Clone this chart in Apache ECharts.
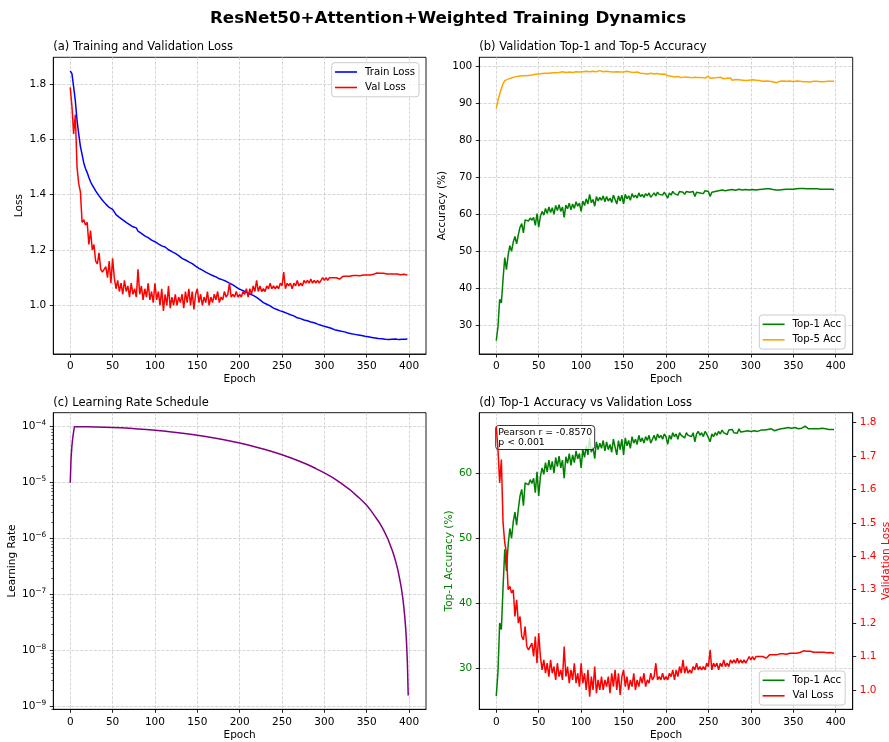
<!DOCTYPE html>
<html><head><meta charset="utf-8">
<script src="https://cdn.jsdelivr.net/npm/echarts@6/dist/echarts.min.js"></script>
<style>html,body{margin:0;padding:0;background:#fff}#c{width:889px;height:742px}</style>
</head><body><div id="c"></div>
<script>
// ---------------- data ----------------
const EPOCH_STEP = 2; // values sampled every 2 epochs: 0,2,...,398
const trainLoss = [
1.848,1.838,1.79,1.74,1.67,1.62,1.575,1.545,1.515,1.495,1.48,1.462,1.447,1.435,1.425,1.414,1.407,1.396,1.389,1.380,1.374,1.366,1.361,1.354,1.350,
1.347,1.338,1.328,1.323,1.318,1.312,1.309,1.304,1.300,1.297,1.292,1.289,1.284,1.278,1.280,1.268,1.266,1.260,1.256,1.251,1.247,1.245,1.240,1.236,1.234,
1.230,1.228,1.222,1.217,1.215,1.212,1.211,1.206,1.201,1.199,1.194,1.190,1.188,1.182,1.180,1.176,1.170,1.168,1.164,1.161,1.157,1.153,1.151,1.148,1.142,
1.138,1.134,1.130,1.127,1.125,1.120,1.118,1.114,1.113,1.108,1.105,1.103,1.098,1.096,1.094,1.092,1.090,1.087,1.085,1.080,1.078,1.074,1.071,1.066,1.062,
1.058,1.056,1.053,1.051,1.048,1.045,1.041,1.039,1.036,1.032,1.029,1.024,1.020,1.016,1.010,1.005,1.004,0.999,0.998,0.993,0.990,0.989,0.985,0.984,0.980,
0.977,0.976,0.972,0.971,0.968,0.966,0.963,0.962,0.958,0.955,0.953,0.952,0.950,0.947,0.947,0.944,0.942,0.940,0.939,0.937,0.935,0.932,0.931,0.928,0.926,
0.924,0.922,0.921,0.918,0.917,0.914,0.912,0.912,0.909,0.907,0.906,0.904,0.904,0.902,0.900,0.899,0.897,0.897,0.895,0.894,0.893,0.891,0.891,0.889,0.888,
0.887,0.886,0.886,0.884,0.883,0.882,0.881,0.880,0.881,0.879,0.878,0.877,0.878,0.876,0.877,0.877,0.876,0.878,0.875,0.876,0.874,0.877,0.875,0.877,0.879];
const valLoss = [
1.788,1.72,1.62,1.69,1.50,1.44,1.41,1.30,1.31,1.29,1.30,1.22,1.27,1.20,1.22,1.16,1.15,1.19,1.13,1.12,1.12,1.14,1.10,1.16,1.08,
1.17,1.10,1.06,1.09,1.05,1.08,1.04,1.09,1.05,1.07,1.03,1.08,1.04,1.06,1.03,1.13,1.04,1.07,1.02,1.06,1.03,1.08,1.02,1.05,1.01,
1.08,1.02,1.05,1.00,1.06,0.98,1.04,1.00,1.07,0.99,1.03,1.00,1.04,1.00,1.03,1.01,1.04,0.99,1.05,1.01,1.06,1.00,1.05,0.985,1.04,
1.06,1.01,1.04,1.00,1.03,1.01,1.05,1.00,1.03,1.01,1.04,1.02,1.05,1.01,1.03,1.02,1.05,1.03,1.04,1.08,1.03,1.04,1.03,1.05,1.03,
1.04,1.03,1.05,1.04,1.06,1.03,1.06,1.04,1.07,1.05,1.09,1.05,1.07,1.05,1.06,1.05,1.07,1.06,1.08,1.06,1.07,1.06,1.07,1.06,1.08,
1.07,1.12,1.06,1.08,1.07,1.08,1.06,1.08,1.07,1.09,1.07,1.08,1.07,1.09,1.08,1.09,1.08,1.095,1.08,1.09,1.08,1.09,1.08,1.075,1.10,
1.09,1.10,1.09,1.10,1.095,1.10,1.095,1.10,1.10,1.095,1.10,1.105,1.10,1.105,1.11,1.105,1.11,1.108,1.11,1.108,1.11,1.107,1.108,1.11,1.107,
1.11,1.112,1.11,1.113,1.112,1.115,1.117,1.12,1.116,1.115,1.116,1.113,1.113,1.114,1.113,1.112,1.113,1.112,1.113,1.112,1.111,1.113,1.112,1.113,1.11];
const top1Acc = [
25.8,29.5,37.0,36.0,42.5,48.3,45.0,49.0,51.5,50.0,52.5,54.0,52.0,54.5,56.5,57.5,55.0,58.5,58.8,58.2,59.0,58.4,59.2,57.0,60.2,
56.5,59.5,60.8,59.8,61.6,60.2,62.0,60.5,61.8,60.0,62.4,61.0,62.6,60.8,62.0,59.2,62.5,61.5,63.0,61.2,62.8,61.6,63.4,62.2,63.0,
60.8,63.6,62.4,64.2,62.8,65.4,63.2,64.0,62.2,64.8,63.6,64.6,63.8,65.0,63.4,64.8,63.6,64.4,63.2,65.2,64.0,62.8,65.0,63.6,65.2,
62.8,65.4,64.2,65.0,63.8,65.6,64.6,65.2,64.4,65.8,64.8,65.4,64.6,65.6,65.0,65.8,64.6,65.2,65.8,65.0,66.0,65.4,65.8,65.2,66.0,
65.6,64.4,65.8,65.2,66.2,65.6,66.0,65.2,66.2,65.8,66.0,65.4,66.2,65.8,66.0,65.6,66.2,64.8,66.0,66.4,65.8,66.2,65.6,66.4,66.0,
66.2,64.8,66.0,65.6,66.2,65.8,66.4,66.0,66.6,66.2,66.4,65.9,66.6,66.3,66.7,66.2,66.5,66.1,66.8,66.3,66.6,66.4,66.7,66.5,66.6,
66.4,66.7,66.5,66.6,66.4,66.7,66.6,66.8,66.6,66.9,66.7,66.9,66.8,66.7,66.5,66.6,66.7,66.6,66.8,66.7,66.9,66.8,67.0,66.8,66.9,
66.8,67.0,66.9,66.8,67.0,66.9,67.0,67.2,66.9,66.8,66.9,66.8,66.9,66.8,66.9,66.8,66.8,66.9,66.8,66.8,66.8,66.7,66.8,66.7,66.7];
const top5Acc = [
88.7,90.8,92.5,94.0,95.4,96.2,96.0,96.6,96.8,96.9,97.0,97.2,97.2,97.4,97.3,97.5,97.6,97.5,97.7,97.6,97.8,97.7,97.6,97.9,97.5,
98.0,97.8,98.1,97.9,98.2,98.0,98.2,97.9,98.3,98.1,98.3,98.0,98.4,98.2,98.6,98.2,98.4,98.1,98.5,98.3,98.4,98.2,98.6,98.4,98.5,
98.3,98.6,98.4,98.7,98.3,98.6,98.4,98.7,98.2,98.6,98.5,98.9,98.4,98.6,98.5,98.7,98.3,98.6,98.4,98.5,98.3,98.6,98.4,98.5,98.2,
98.5,98.3,98.7,98.4,98.5,98.3,98.4,98.2,98.5,98.3,98.2,98.4,98.1,98.3,98.0,97.6,98.2,97.9,98.0,97.8,98.1,97.7,97.9,97.6,98.0,
97.7,97.5,97.9,97.4,97.8,97.2,97.6,97.3,97.7,97.0,97.4,97.2,97.5,97.1,97.3,97.0,97.3,97.1,97.4,97.0,97.2,97.0,97.3,96.9,97.1,
97.4,96.8,97.2,96.9,97.2,97.0,96.8,97.1,96.9,96.7,97.0,96.8,96.6,96.9,96.3,96.7,96.5,97.0,96.4,96.6,96.3,96.5,96.2,96.6,96.3,
96.2,96.4,96.1,96.3,96.0,96.2,96.4,96.0,96.3,96.1,96.2,96.0,96.1,95.9,96.0,95.6,95.8,96.0,95.9,96.1,95.9,96.0,95.9,96.1,96.0,
95.9,96.0,96.1,95.9,96.0,96.1,95.9,96.0,95.9,96.0,95.8,95.9,96.0,95.9,96.0,95.9,95.9,96.0,95.9,96.0,96.0,95.9,96.0,96.0,96.0];
const lrEpochs = [0,1,2,3,4,5,10,20,30,40,50,60,70,80,90,100,110,120,130,140,150,160,170,180,190,200,210,220,230,240,250,260,270,280,290,300,310,320,330,340,345,350,355,360,365,370,375,380,382,385,387,390,391,392,393,394,395,396,397,398,399];
const lrValues = [1.0e-5,2.8e-5,4.6e-5,6.4e-5,8.2e-5,1.0e-4,9.996e-5,9.964e-5,9.90e-5,9.81e-5,9.68e-5,9.53e-5,9.35e-5,9.14e-5,8.90e-5,8.64e-5,8.35e-5,8.05e-5,7.73e-5,7.38e-5,7.03e-5,6.66e-5,6.28e-5,5.89e-5,5.50e-5,5.10e-5,4.70e-5,4.31e-5,3.91e-5,3.53e-5,3.16e-5,2.79e-5,2.44e-5,2.11e-5,1.79e-5,1.50e-5,1.23e-5,9.76e-6,7.55e-6,5.54e-6,4.71e-6,3.95e-6,3.17e-6,2.48e-6,1.93e-6,1.42e-6,9.9e-7,6.31e-7,5.11e-7,3.55e-7,2.67e-7,1.58e-7,1.28e-7,1.01e-7,7.74e-8,5.69e-8,3.95e-8,2.53e-8,1.42e-8,6.32e-9,1.58e-9];
const epochTicks = [0,50,100,150,200,250,300,350,400];
const lossTicks = [1.0,1.2,1.4,1.6,1.8];
const accTicks = [30,40,50,60,70,80,90,100];
const lrDecades = [-9,-8,-7,-6,-5,-4];
const dAccTicks = [30,40,50,60];
const dLossTicks = [1.0,1.1,1.2,1.3,1.4,1.5,1.6,1.7,1.8];
const pearsonText = ['Pearson r = -0.8570', 'p < 0.001'];

// ---------------- chart ----------------
const F = 'DejaVu Sans';
const COL = {blue:'#0000ff', red:'#ff0000', green:'#008000', orange:'#ffa500', purple:'#800080'};
const epochs = trainLoss.map((_, i) => i * EPOCH_STEP);
const xy = (xs, ys) => ys.map((y, i) => [xs[i], y]);
const GRIDLINE = () => ({show:true, lineStyle:{color:'#cbcbcb', width:0.8, type:[3,1.5]}});
const TICK = () => ({show:true, length:3.5, lineStyle:{color:'#000', width:0.85}});
const AXLINE = () => ({show:true, onZero:false, lineStyle:{color:'#000', width:0.85}});
const NOLINE = () => ({show:false, onZero:false});
const lab = (extra) => Object.assign({fontSize:10.5, color:'#000', fontFamily:F, margin:7}, extra || {});
const nameStyle = (c) => ({fontSize:10.5, color:c || '#000', fontFamily:F});

const GRIDS = [
  {left:53.3, top:57.3, width:372.7, height:296.7},
  {left:479.3, top:57.3, width:373.4, height:296.7},
  {left:53.3, top:412.7, width:372.7, height:296.6},
  {left:479.3, top:412.7, width:373.4, height:296.6}
].map(g => Object.assign({show:true, borderColor:'#000', borderWidth:0.9, backgroundColor:'transparent',
  outerBoundsMode:'none', containLabel:false}, g));

function mainX(gi) {
  return {type:'value', gridIndex:gi, position:'bottom', min:-20, max:420, splitNumber:9,
    axisLine:AXLINE(), axisTick:Object.assign({customValues:epochTicks}, TICK()),
    axisLabel:lab({customValues:epochTicks}), splitLine:GRIDLINE(),
    name:'Epoch', nameLocation:'middle', nameGap:20, nameTextStyle:nameStyle()};
}
function valY(gi, min, max, split, ticks, name, gap, opts) {
  opts = opts || {};
  return Object.assign({type:'value', gridIndex:gi, position:'left', min:min, max:max, splitNumber:split,
    axisLine:AXLINE(), axisTick:Object.assign({customValues:ticks}, TICK()),
    axisLabel:lab({customValues:ticks, color:opts.color || '#000', formatter:opts.fmt}),
    splitLine:GRIDLINE(),
    name:name, nameLocation:'middle', nameGap:gap, nameRotate:90, nameTextStyle:nameStyle(opts.color)}, opts.extra || {});
}

const LEXP = [-9.046, -3.75];
const LRMIN = Math.pow(10, LEXP[0]), LRMAX = Math.pow(10, LEXP[1]);
const minorExp = [];
for (let n = -10; n <= -4; n++) for (let k = 2; k <= 9; k++) {
  const e = n + Math.log10(k);
  if (e > LEXP[0] && e < LEXP[1]) minorExp.push(e);
}
const fmt1 = v => v.toFixed(1);

const xAxes = [mainX(0), mainX(1), mainX(2), mainX(3)];

const yAxes = [
  valY(0, 0.824, 1.897, 5, lossTicks, 'Loss', 29, {fmt:fmt1}),
  valY(1, 22.2, 102.5, 8, accTicks, 'Accuracy (%)', 32),
  // (c) log axis: labels + axis line
  {type:'log', logBase:10, gridIndex:2, position:'left', min:LRMIN, max:LRMAX, splitNumber:5,
    axisLine:AXLINE(), axisTick:{show:false}, splitLine:{show:false},
    axisLabel:lab({formatter: v => {
      const l = Math.log10(v), e = Math.round(l);
      if (Math.abs(l - e) > 0.01) return '';
      return '{b|10}{s|' + (e < 0 ? '\u2212' : '') + Math.abs(e) + '}';
    }, rich:{b:{fontSize:10.5, fontFamily:F, color:'#000', lineHeight:14},
             s:{fontSize:7.4, fontFamily:F, color:'#000', lineHeight:7, verticalAlign:'top'}}}),
    name:'Learning Rate', nameLocation:'middle', nameGap:36, nameRotate:90, nameTextStyle:nameStyle()},
  // (c) minor ticks (decade exponent space)
  {type:'value', gridIndex:2, position:'left', min:LEXP[0], max:LEXP[1],
    axisLine:NOLINE(), axisLabel:{show:false}, splitLine:{show:false},
    axisTick:{show:true, customValues:minorExp, length:2, lineStyle:{color:'#000', width:0.6}}},
  // (c) major ticks + grid lines at decades
  {type:'value', gridIndex:2, position:'left', min:LEXP[0], max:LEXP[1],
    axisLine:NOLINE(), axisLabel:{show:false}, splitLine:GRIDLINE(),
    axisTick:Object.assign({customValues:lrDecades}, TICK())},
  valY(3, 23.75, 69.27, 5, dAccTicks, 'Top-1 Accuracy (%)', 25, {color:COL.green}),
  valY(3, 0.942, 1.830, 9, dLossTicks, 'Validation Loss', 27,
    {color:COL.red, fmt:fmt1, extra:{position:'right', splitLine:{show:false}}})
];

const line = (name, data, color, xi, yi, extra) => Object.assign({
  type:'line', name:name, data:data, xAxisIndex:xi, yAxisIndex:yi, showSymbol:false, symbol:'none',
  color:color, lineStyle:{color:color, width:1.5}, animation:false}, extra || {});

const series = [
  line('Train Loss', xy(epochs, trainLoss), COL.blue, 0, 0),
  line('Val Loss', xy(epochs, valLoss), COL.red, 0, 0),
  line('Top-1 Acc', xy(epochs, top1Acc), COL.green, 1, 1),
  line('Top-5 Acc', xy(epochs, top5Acc), COL.orange, 1, 1),
  line('Learning Rate', xy(lrEpochs, lrValues), COL.purple, 2, 2),
  line('Top-1 Acc', xy(epochs, top1Acc), COL.green, 3, 5),
  line('Val Loss', xy(epochs, valLoss), COL.red, 3, 6, {z:7})
];

const legend = (data, left, top) => ({
  data:data, orient:'vertical', left:left, top:top, icon:'rect', itemWidth:22, itemHeight:1.6, itemGap:3.5,
  padding:[3.3,4,3.3,3.3], backgroundColor:'rgba(255,255,255,0.8)', borderColor:'#cccccc', borderWidth:1,
  borderRadius:3, selectedMode:false,
  textStyle:{fontSize:10.2, color:'#000', fontFamily:F, lineHeight:12, padding:[0,0,0,3]}
});

const subTitle = (text, left, top) => ({text:text, left:left, top:top, padding:0,
  textStyle:{fontSize:11.5, fontWeight:'normal', color:'#000', fontFamily:F, lineHeight:14}});

const option = {
  animation:false,
  backgroundColor:'#fff',
  textStyle:{fontFamily:F},
  grid:GRIDS,
  xAxis:xAxes,
  yAxis:yAxes,
  series:series,
  legend:[
    legend(['Train Loss','Val Loss'], 331.7, 62.7),
    legend(['Top-1 Acc','Top-5 Acc'], 759.3, 315),
    legend(['Top-1 Acc','Val Loss'], 759.3, 671)
  ],
  title:[
    {text:'ResNet50+Attention+Weighted Training Dynamics', left:210, top:9, padding:0,
      textStyle:{fontSize:16.7, fontWeight:'bold', color:'#000', fontFamily:F, lineHeight:20}},
    subTitle('(a) Training and Validation Loss', 53.3, 39.7),
    subTitle('(b) Validation Top-1 and Top-5 Accuracy', 479.3, 39.7),
    subTitle('(c) Learning Rate Schedule', 53.3, 395.7),
    subTitle('(d) Top-1 Accuracy vs Validation Loss', 479.3, 395.7),
    {text:pearsonText.join('\n'), left:495.7, top:425, padding:[2,2.5,2,2.5],
      backgroundColor:'rgba(255,255,255,0.8)', borderColor:'rgba(0,0,0,0.8)', borderWidth:1, borderRadius:3,
      textStyle:{fontSize:9.4, fontWeight:'normal', color:'#000', fontFamily:F, lineHeight:10.5}}
  ]
};
const chart = echarts.init(document.getElementById('c'), null, {renderer:'canvas'});
chart.setOption(option);
</script></body></html>
